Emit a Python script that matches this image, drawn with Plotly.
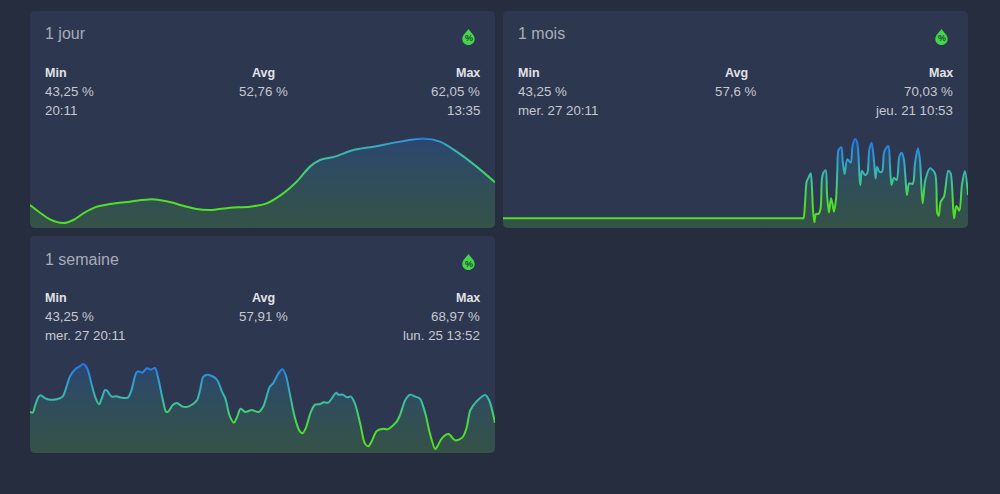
import json
import plotly.graph_objects as go

W, H = 1000, 494
PAGE = "#252d3f"
CARD = "#2d3750"

day_x = [0,.52,1.03,1.72,2.24,2.75,3.35,4.13,5.16,6.28,7.05,7.91,8.6,9.29,10.32,11.35,12.21,13.07,13.76,14.45,14.97,15.74,16.69,17.72,19.1,20.3,21.16,22.02,23.05,24]
day_y = [47.26,45.55,44.07,43.25,43.92,45.40,46.74,47.49,48.01,48.53,48.08,47.11,46.37,46.15,46.67,46.89,47.63,49.86,52.46,55.81,57.29,58.04,59.52,60.26,61.38,62.05,61.38,59.15,55.81,52.31]

month_x = [0,4,8,12,16,18,19,19.2,19.3,19.38,19.50,19.59,19.72,19.85,19.93,20.0,20.09,20.19,20.36,20.49,20.58,20.67,20.82,20.90,21.03,21.16,21.25,21.35,21.48,21.57,21.65,21.83,21.91,22.04,22.21,22.43,22.56,22.73,22.86,22.99,23.05,23.16,23.35,23.50,23.63,23.78,23.93,24.04,24.13,24.28,24.45,24.60,24.86,24.97,25.07,25.22,25.40,25.57,25.72,25.87,25.96,26.06,26.21,26.43,26.58,26.77,26.90,27.07,27.25,27.55,27.87,28.02,28.11,28.24,28.45,28.73,28.88,29.10,29.25,29.44,29.61,29.80,30.0]
month_y = [44.54,44.54,44.54,44.54,44.54,44.54,44.54,44.54,44.54,44.54,50.43,56.32,57.71,58.99,54.71,47.21,43.25,45.93,45.93,47.75,57.39,59.21,59.96,52.57,46.36,50.96,49.36,46.68,50.43,60.07,66.49,67.35,63.28,58.78,63.49,62.42,68.10,70.03,68.64,58.99,55.25,59.85,58.46,58.99,66.49,68.85,63.28,57.39,61.14,59.53,59.53,65.96,67.78,61.14,55.25,57.60,56.85,64.35,65.63,63.28,57.92,52.03,55.78,55.57,62.21,67.03,63.28,49.36,56.85,60.60,58.99,46.14,45.39,49.89,51.50,59.85,58.99,44.54,48.50,47.0,55.25,59.74,52.03]

week_x = [0,.04,.08,.13,.16,.23,.30,.40,.49,.55,.60,.68,.74,.80,.86,.93,.98,1.04,1.08,1.13,1.16,1.23,1.30,1.38,1.47,1.52,1.60,1.63,1.69,1.76,1.82,1.88,1.93,2.00,2.05,2.08,2.15,2.21,2.30,2.38,2.51,2.56,2.61,2.68,2.81,2.89,2.94,3.01,3.07,3.12,3.17,3.24,3.34,3.44,3.51,3.61,3.66,3.74,3.80,3.85,3.91,3.99,4.05,4.10,4.15,4.22,4.29,4.37,4.42,4.49,4.61,4.64,4.71,4.77,4.83,4.89,4.97,5.04,5.09,5.14,5.22,5.32,5.38,5.52,5.57,5.65,5.72,5.80,5.87,5.95,6.02,6.10,6.13,6.20,6.30,6.40,6.51,6.57,6.63,6.72,6.85,6.91,7.0]
week_y = [54.54,54.24,56.56,59.08,59.49,58.58,58.18,58.28,59.08,62.11,65.14,67.36,68.16,68.97,67.66,62.62,59.08,56.76,58.58,61.10,60.90,59.08,59.18,58.78,58.78,60.60,66.35,66.75,66.35,67.66,67.26,67.76,64.63,58.08,54.44,54.54,56.56,57.17,56.06,56.06,57.87,61.10,65.14,65.74,64.33,60.60,58.58,53.03,51.21,53.03,55.45,54.44,55.05,54.44,56.06,62.11,63.12,66.15,67.36,65.64,60.09,52.53,49.0,47.99,49.50,54.04,56.66,56.86,57.37,57.27,60.30,59.69,59.69,58.88,59.08,57.07,51.01,44.96,44.05,45.46,48.69,49.40,49.20,51.52,53.53,58.08,59.69,59.08,58.48,54.04,47.99,43.25,43.95,46.47,47.78,45.87,46.77,49.50,55.05,57.57,59.59,58.08,51.21]

titles = ["1 jour", "1 mois", "1 semaine"]
min_vals = ["43,25 %", "43,25 %", "43,25 %"]
avg_vals = ["52,76 %", "57,6 %", "57,91 %"]
max_vals = ["62,05 %", "70,03 %", "68,97 %"]
min_times = ["20:11", "mer. 27 20:11", "mer. 27 20:11"]
max_times = ["13:35", "jeu. 21 10:53", "lun. 25 13:52"]

# value -> line colour
color_vals = [48, 52, 56, 60, 65, 70]
color_hex = ["#50e024", "#48d84c", "#3fc88c", "#37b2b8", "#2f96d6", "#2573e8"]

cards = [(30, 11), (503, 11), (30, 236)]
CW, CH = 465, 217
series = [(day_x, day_y), (month_x, month_y), (week_x, week_y)]
y_ranges = [(42.14, 63.97), (41.42, 72.92), (42.04, 71.69)]


def px(x):
    return x / W


def py(y):
    return 1 - y / H


def card_path(x, y, r=5):
    a, b, c, d = px(x), px(x + CW), py(y), py(y + CH)
    rx, ry = r / W, r / H
    return (f"M{a+rx},{c} L{b-rx},{c} Q{b},{c} {b},{c-ry} L{b},{d+ry} Q{b},{d} {b-rx},{d} "
            f"L{a+rx},{d} Q{a},{d} {a},{d+ry} L{a},{c-ry} Q{a},{c} {a+rx},{c} Z")


def corner_mask(x, y, sx, r=5):
    # concave corner in page colour, rounds the bottom corners of the fill
    a, d = px(x), py(y)
    rx, ry = sx * r / W, r / H
    return f"M{a},{d} L{a+rx},{d} Q{a},{d} {a},{d+ry} Z"


def drop_path(cx, cy):
    def p(dx, dy):
        return f"{px(cx+dx)},{py(cy+dy)}"
    return (f"M{p(0,-8)} C{p(2,-5)} {p(6.2,-2)} {p(6.2,2)} C{p(6.2,5.6)} {p(3.4,8)} {p(0,8)} "
            f"C{p(-3.4,8)} {p(-6.2,5.6)} {p(-6.2,2)} C{p(-6.2,-2)} {p(-2,-5)} {p(0,-8)} Z")


fig = go.Figure()
shapes, annos, gradients = [], [], []
layout = {}
GREEN = "#43d64b"


def text(x, y, s, size, color, anchor="left", weight=None):
    annos.append(dict(x=px(x), y=py(y), xref="paper", yref="paper", text=s, showarrow=False,
                      xanchor=anchor, yanchor="middle", align=anchor,
                      font=dict(family="Liberation Sans, Arial", size=size, color=color,
                                weight=weight or 400),
                      borderpad=0, borderwidth=0))


for i, ((cx, cy), (xs, ys), yr) in enumerate(zip(cards, series, y_ranges)):
    shapes.append(dict(type="path", path=card_path(cx, cy), xref="paper", yref="paper",
                       fillcolor=CARD, line_width=0, layer="below"))
    suffix = "" if i == 0 else str(i + 1)
    top, bottom = cy + 119, cy + CH
    layout[f"xaxis{suffix}"] = dict(domain=[px(cx), px(cx + CW)], range=[xs[0], xs[-1]], visible=False,
                                    anchor=f"y{suffix}")
    layout[f"yaxis{suffix}"] = dict(domain=[py(bottom), py(top)], range=list(yr), visible=False,
                                    anchor=f"x{suffix}")
    fig.add_trace(go.Scatter(
        x=xs, y=ys, mode="lines", xaxis=f"x{suffix}", yaxis=f"y{suffix}",
        line=dict(color=GREEN, width=2, shape="spline", smoothing=0.85),
        fill="tozeroy",
        fillgradient=dict(type="vertical", start=max(ys), stop=yr[0],
                          colorscale=[[0, "rgba(37,110,200,0.28)"], [1, "rgba(80,180,40,0.22)"]]),
        hoverinfo="skip", showlegend=False,
    ))
    # stroke stops: value colours mapped onto this panel's vertical extent
    hi, lo = max(ys), min(ys)
    stops = []
    for v, c in zip(color_vals, color_hex):
        stops.append([(hi - v) / (hi - lo), c])
    gradients.append(sorted(stops, key=lambda s: s[0]))

    for sx, ox in ((1, cx), (-1, cx + CW)):
        shapes.append(dict(type="path", path=corner_mask(ox, bottom, sx), xref="paper", yref="paper",
                           fillcolor=PAGE, line_width=0, layer="above"))
    shapes.append(dict(type="path", path=drop_path(cx + 438.5, cy + 26), xref="paper", yref="paper",
                       fillcolor=GREEN, line_width=0, layer="above"))
    text(cx + 438.5, cy + 27.5, "%", 9, "#1f4a35", "center", 700)
    text(cx + 15, cy + 23, titles[i], 16, "#a8acb8")
    left, mid, right = cx + 15, cx + 233, cx + 450
    text(left, cy + 62, "Min", 12.5, "#e1e2e7", "left", 700)
    text(mid, cy + 62, "Avg", 12.5, "#e1e2e7", "center", 700)
    text(right, cy + 62, "Max", 12.5, "#e1e2e7", "right", 700)
    text(left, cy + 80, min_vals[i], 13.3, "#c6c8d0")
    text(mid, cy + 80, avg_vals[i], 13.3, "#c6c8d0", "center")
    text(right, cy + 80, max_vals[i], 13.3, "#c6c8d0", "right")
    text(left, cy + 99, min_times[i], 13.3, "#c6c8d0")
    text(right, cy + 99, max_times[i], 13.3, "#c6c8d0", "right")

fig.update_layout(width=W, height=H, margin=dict(l=0, r=0, t=0, b=0), autosize=False,
                  paper_bgcolor=PAGE, plot_bgcolor="rgba(0,0,0,0)", shapes=shapes, annotations=annos,
                  **layout)

post = """
document.body.style.margin = '0';
document.body.style.overflow = 'hidden';
var gd = document.getElementById('{plot_id}');
var grads = %s;
var svg = gd.querySelector('svg.main-svg');
var defs = svg.querySelector('defs');
var NS = 'http://www.w3.org/2000/svg';
gd.querySelectorAll('.scatterlayer .trace').forEach(function (t, i) {
  var lg = document.createElementNS(NS, 'linearGradient');
  lg.setAttribute('id', 'stroke-grad-' + i);
  lg.setAttribute('x1', '0'); lg.setAttribute('x2', '0');
  lg.setAttribute('y1', '0'); lg.setAttribute('y2', '1');
  grads[i].forEach(function (s) {
    var st = document.createElementNS(NS, 'stop');
    st.setAttribute('offset', s[0]);
    st.setAttribute('stop-color', s[1]);
    lg.appendChild(st);
  });
  defs.appendChild(lg);
  t.querySelectorAll('.js-line').forEach(function (p) {
    p.style.stroke = 'url(#stroke-grad-' + i + ')';
  });
});
""" % json.dumps(gradients)

fig.write_html("out.html", config={"displayModeBar": False}, post_script=post)
